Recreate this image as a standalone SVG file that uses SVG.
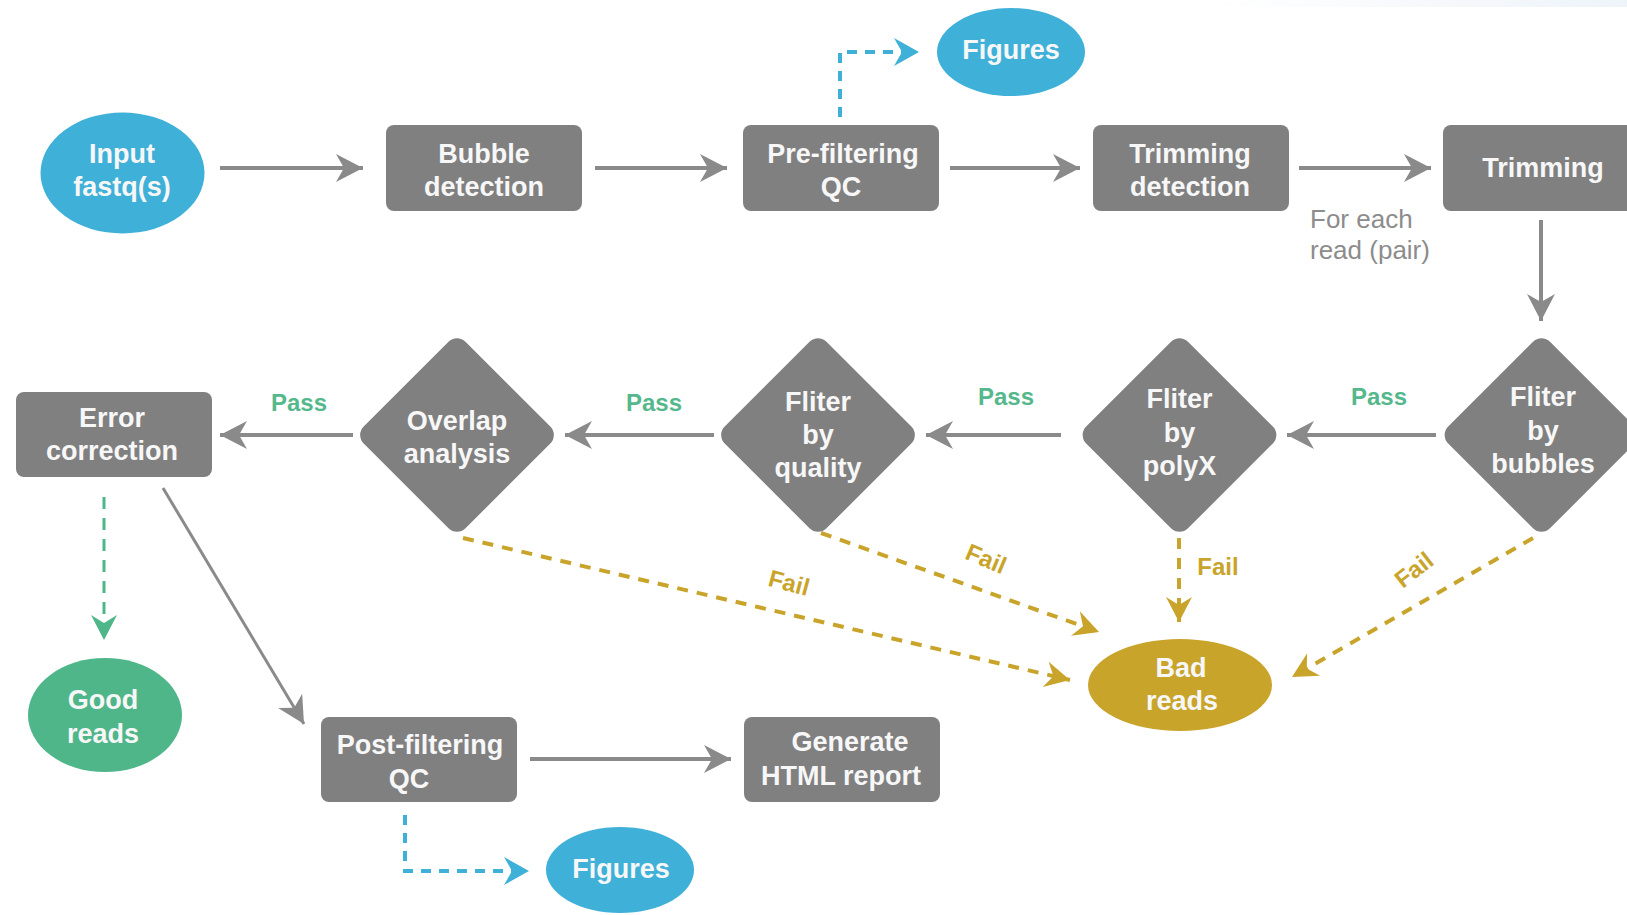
<svg xmlns="http://www.w3.org/2000/svg" width="1627" height="915" viewBox="0 0 1627 915">
<style>
.box{fill:#808080}
.t{font-family:"Liberation Sans",Arial,sans-serif;font-weight:bold;font-size:27px;fill:#f7f7f7;text-anchor:middle}
.pass{font-family:"Liberation Sans",Arial,sans-serif;font-weight:bold;font-size:24px;fill:#55b88c;text-anchor:middle}
.fail{font-family:"Liberation Sans",Arial,sans-serif;font-weight:bold;font-size:24px;fill:#c9a42a;text-anchor:middle}
.note{font-family:"Liberation Sans",Arial,sans-serif;font-size:26px;fill:#8c8c8c}
.solid{fill:none;stroke:#8a8a8a;stroke-width:4}
.thin{fill:none;stroke:#8a8a8a;stroke-width:3}
.blue{fill:none;stroke:#3fb1d8;stroke-width:4;stroke-dasharray:10 8}
.green{fill:none;stroke:#4fb68a;stroke-width:3;stroke-dasharray:12 9}
.gold{fill:none;stroke:#c9a42a;stroke-width:4;stroke-dasharray:11 9}
</style>
<defs>
<linearGradient id="strip" x1="0" y1="0" x2="1" y2="0">
<stop offset="0" stop-color="#ffffff"/>
<stop offset="1" stop-color="#eef4f9"/>
</linearGradient>
<marker id="ag" viewBox="-28 -15 30 30" refX="0" refY="0" markerWidth="30" markerHeight="30" markerUnits="userSpaceOnUse" orient="auto"><path d="M0,0 L-27,-14 L-19,0 L-27,14 Z" fill="#8a8a8a"/></marker>
<marker id="ab" viewBox="-28 -15 30 30" refX="0" refY="0" markerWidth="30" markerHeight="30" markerUnits="userSpaceOnUse" orient="auto"><path d="M0,0 L-25,-14 L-17,0 L-25,14 Z" fill="#3fb1d8"/></marker>
<marker id="agr" viewBox="-28 -15 30 30" refX="0" refY="0" markerWidth="30" markerHeight="30" markerUnits="userSpaceOnUse" orient="auto"><path d="M0,0 L-25,-13 L-17,0 L-25,13 Z" fill="#4fb68a"/></marker>
<marker id="ay" viewBox="-28 -15 30 30" refX="0" refY="0" markerWidth="30" markerHeight="30" markerUnits="userSpaceOnUse" orient="auto"><path d="M0,0 L-25,-13 L-17,0 L-25,13 Z" fill="#c9a42a"/></marker>
</defs>
<rect width="1627" height="915" fill="#ffffff"/>
<rect x="1210" y="0" width="417" height="7" fill="url(#strip)"/>

<g id="connectors">
<line class="solid" x1="220" y1="168" x2="363" y2="168" marker-end="url(#ag)"/>
<line class="solid" x1="595" y1="168" x2="727" y2="168" marker-end="url(#ag)"/>
<line class="solid" x1="950" y1="168" x2="1080" y2="168" marker-end="url(#ag)"/>
<line class="solid" x1="1299" y1="168" x2="1431" y2="168" marker-end="url(#ag)"/>
<line class="solid" x1="1541" y1="220" x2="1541" y2="321" marker-end="url(#ag)"/>
<polyline class="blue" points="840,117 840,52 919,52" marker-end="url(#ab)"/>
<line class="solid" x1="1436" y1="435" x2="1287" y2="435" marker-end="url(#ag)"/>
<line class="solid" x1="1061" y1="435" x2="926" y2="435" marker-end="url(#ag)"/>
<line class="solid" x1="714" y1="435" x2="565" y2="435" marker-end="url(#ag)"/>
<line class="solid" x1="353" y1="435" x2="220" y2="435" marker-end="url(#ag)"/>
<line class="green" x1="104" y1="497" x2="104" y2="640" marker-end="url(#agr)"/>
<line class="thin" x1="163" y1="488" x2="304" y2="724" marker-end="url(#ag)"/>
<line class="solid" x1="530" y1="759" x2="731" y2="759" marker-end="url(#ag)"/>
<polyline class="blue" points="405,815 405,871 529,871" marker-end="url(#ab)"/>
<line class="gold" x1="463" y1="538" x2="1070" y2="680" marker-end="url(#ay)"/>
<line class="gold" x1="821" y1="533" x2="1099" y2="632" marker-end="url(#ay)"/>
<line class="gold" x1="1179" y1="538" x2="1179" y2="622" marker-end="url(#ay)"/>
<line class="gold" x1="1533" y1="538" x2="1292" y2="677" marker-end="url(#ay)"/>
<text class="pass" x="299" y="411">Pass</text>
<text class="pass" x="654" y="411">Pass</text>
<text class="pass" x="1006" y="405">Pass</text>
<text class="pass" x="1379" y="405">Pass</text>
<text class="fail" x="789" y="591" transform="rotate(15 789 583)">Fail</text>
<text class="fail" x="986" y="567" transform="rotate(23 986 559)">Fail</text>
<text class="fail" x="1218" y="575">Fail</text>
<text class="fail" x="1414" y="578" transform="rotate(-38 1414 570)">Fail</text>
<text class="note" x="1310" y="228">For each</text>
<text class="note" x="1310" y="259">read (pair)</text>
</g>

<g id="input">
<ellipse cx="122.5" cy="173" rx="82" ry="60.5" fill="#3fb1d8"/>
<text class="t" x="122" y="163">Input</text>
<text class="t" x="122" y="196">fastq(s)</text>
</g>
<g id="bubble-detection">
<rect class="box" x="386" y="125" width="196" height="86" rx="8"/>
<text class="t" x="484" y="163">Bubble</text>
<text class="t" x="484" y="196">detection</text>
</g>
<g id="pre-filtering-qc">
<rect class="box" x="743" y="125" width="196" height="86" rx="8"/>
<text class="t" x="843" y="163">Pre-filtering</text>
<text class="t" x="841" y="196">QC</text>
</g>
<g id="figures-top">
<ellipse cx="1011" cy="52" rx="74" ry="44" fill="#3fb1d8"/>
<text class="t" x="1011" y="59">Figures</text>
</g>
<g id="trimming-detection">
<rect class="box" x="1093" y="125" width="196" height="86" rx="8"/>
<text class="t" x="1190" y="163">Trimming</text>
<text class="t" x="1190" y="196">detection</text>
</g>
<g id="trimming">
<rect class="box" x="1443" y="125" width="196" height="86" rx="8"/>
<text class="t" x="1543" y="177">Trimming</text>
</g>
<g id="filter-bubbles">
<rect class="box" x="-72" y="-72" width="144" height="144" rx="12" transform="translate(1541.5 435) rotate(45)"/>
<text class="t" x="1543" y="406">Fliter</text>
<text class="t" x="1543" y="440">by</text>
<text class="t" x="1543" y="473">bubbles</text>
</g>
<g id="filter-polyx">
<rect class="box" x="-72" y="-72" width="144" height="144" rx="12" transform="translate(1179.5 435) rotate(45)"/>
<text class="t" x="1179.5" y="408">Fliter</text>
<text class="t" x="1179.5" y="442">by</text>
<text class="t" x="1179.5" y="475">polyX</text>
</g>
<g id="filter-quality">
<rect class="box" x="-72" y="-72" width="144" height="144" rx="12" transform="translate(818 435) rotate(45)"/>
<text class="t" x="818" y="411">Fliter</text>
<text class="t" x="818" y="444">by</text>
<text class="t" x="818" y="477">quality</text>
</g>
<g id="overlap-analysis">
<rect class="box" x="-72" y="-72" width="144" height="144" rx="12" transform="translate(457 435) rotate(45)"/>
<text class="t" x="457" y="430">Overlap</text>
<text class="t" x="457" y="463">analysis</text>
</g>
<g id="error-correction">
<rect class="box" x="16" y="392" width="196" height="85" rx="8"/>
<text class="t" x="112" y="427">Error</text>
<text class="t" x="112" y="460">correction</text>
</g>
<g id="good-reads">
<ellipse cx="105" cy="715" rx="77" ry="57" fill="#4fb68a"/>
<text class="t" x="103" y="709">Good</text>
<text class="t" x="103" y="743">reads</text>
</g>
<g id="post-filtering-qc">
<rect class="box" x="321" y="717" width="196" height="85" rx="8"/>
<text class="t" x="420" y="754">Post-filtering</text>
<text class="t" x="409" y="788">QC</text>
</g>
<g id="generate-html-report">
<rect class="box" x="744" y="717" width="196" height="85" rx="8"/>
<text class="t" x="850" y="751">Generate</text>
<text class="t" x="841" y="785">HTML report</text>
</g>
<g id="figures-bottom">
<ellipse cx="620" cy="870" rx="74" ry="43" fill="#3fb1d8"/>
<text class="t" x="621" y="878">Figures</text>
</g>
<g id="bad-reads">
<ellipse cx="1180" cy="685" rx="92" ry="46" fill="#c9a42a"/>
<text class="t" x="1181" y="677">Bad</text>
<text class="t" x="1182" y="710">reads</text>
</g>
</svg>
